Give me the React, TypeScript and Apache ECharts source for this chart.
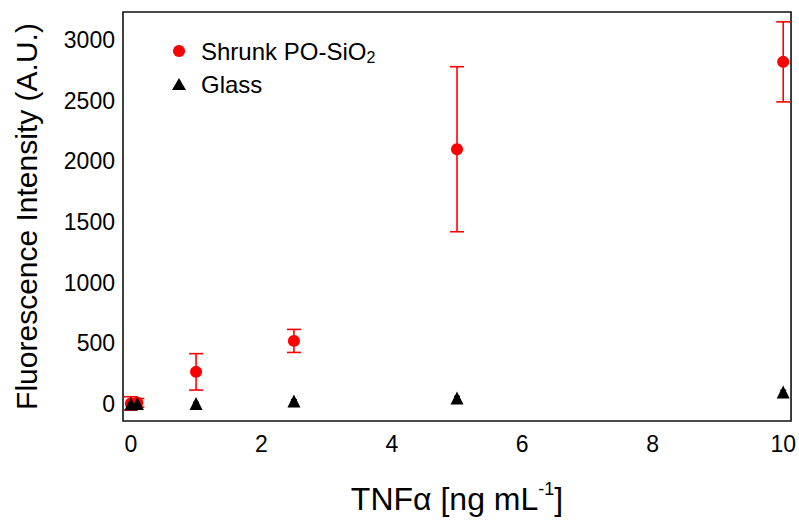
import React, { useEffect, useRef } from "react";
import * as echarts from "echarts";

const concentrations = [0, 0.1, 1, 2.5, 5, 10];
const shrunkMean = [5, 10, 265, 520, 2100, 2820];
const shrunkErr = [55, 35, 150, 95, 680, 330];
const glassMean = [0, 5, 5, 25, 50, 100];
const glassErr = [10, 10, 8, 10, 12, 12];
const xTicks = [0, 2, 4, 6, 8, 10];
const yTicks = [0, 500, 1000, 1500, 2000, 2500, 3000];

const FONT = "'Liberation Sans', Arial, sans-serif";

export default function App() {
  const ref = useRef<HTMLDivElement>(null);
  useEffect(() => {
    if (!ref.current) return;
    const chart = echarts.init(ref.current, null, { renderer: "svg" });
    const errData = concentrations.map((x, i) => [x, shrunkMean[i] - shrunkErr[i], shrunkMean[i] + shrunkErr[i]]);
    const glassErrData = concentrations.map((x, i) => [x, glassMean[i] - glassErr[i], glassMean[i] + glassErr[i]]);
    const errRender = (color: string, cap: number) => (params: any, api: any) => {
      const x = api.value(0);
      const lo = api.coord([x, api.value(1)]);
      const hi = api.coord([x, api.value(2)]);
      const style = { stroke: color, lineWidth: 1.6 };
      return {
        type: "group",
        children: [
          { type: "line", shape: { x1: lo[0], y1: lo[1], x2: hi[0], y2: hi[1] }, style },
          { type: "line", shape: { x1: lo[0] - cap, y1: lo[1], x2: lo[0] + cap, y2: lo[1] }, style },
          { type: "line", shape: { x1: hi[0] - cap, y1: hi[1], x2: hi[0] + cap, y2: hi[1] }, style },
        ],
      };
    };
    chart.setOption({
      animation: false,
      backgroundColor: "#fff",
      grid: {
        left: 123,
        right: 7,
        top: 12,
        bottom: 100,
        show: true,
        borderColor: "#111",
        borderWidth: 1.6,
        backgroundColor: "transparent",
      },
      legend: {
        orient: "vertical",
        left: 167,
        top: 34,
        itemWidth: 14,
        itemHeight: 12,
        itemGap: 7,
        data: [
          { name: "Shrunk PO-SiO2", icon: "circle", itemStyle: { color: "#f00" } },
          { name: "Glass", icon: "triangle", itemStyle: { color: "#000" } },
        ],
        formatter: (name: string) =>
          name === "Shrunk PO-SiO2" ? "{a|Shrunk PO-SiO}{s|2}" : "{a|Glass}",
        textStyle: {
          rich: {
            a: { fontFamily: FONT, fontSize: 24, color: "#000", padding: [0, 0, 0, 10] },
            s: { fontFamily: FONT, fontSize: 16, color: "#000", padding: [12, 0, 0, 0] },
          },
        },
      },
      xAxis: {
        type: "value",
        min: -0.12,
        max: 10.12,
        name: "{a|TNFα [ng mL}{s|-1}{a|]}",
        nameLocation: "middle",
        nameGap: 59,
        nameTextStyle: {
          rich: {
            a: { fontFamily: FONT, fontSize: 32, color: "#000" },
            s: { fontFamily: FONT, fontSize: 18, color: "#000", padding: [0, 0, 19, 0] },
          },
        },
        axisLine: { show: false },
        axisTick: { show: false },
        splitLine: { show: false },
        axisLabel: {
          customValues: xTicks,
          formatter: (v: number) => String(v),
          fontFamily: FONT,
          fontSize: 23,
          color: "#000",
          margin: 11,
        },
      },
      yAxis: {
        type: "value",
        min: -140,
        max: 3231,
        name: "Fluorescence Intensity (A.U.)",
        nameLocation: "middle",
        nameGap: 82,
        nameTextStyle: { fontFamily: FONT, fontSize: 30, color: "#000" },
        axisLine: { show: false },
        axisTick: { show: false },
        splitLine: { show: false },
        axisLabel: {
          customValues: yTicks,
          formatter: (v: number) => String(v),
          fontFamily: FONT,
          fontSize: 23,
          color: "#000",
          margin: 8,
        },
      },
      series: [
        {
          name: "ShrunkErr",
          type: "custom",
          renderItem: errRender("#f00", 7),
          data: errData,
          encode: { x: 0, y: [1, 2] },
          z: 2,
          silent: true,
        },
        {
          name: "GlassErr",
          type: "custom",
          renderItem: errRender("#000", 3),
          data: glassErrData,
          encode: { x: 0, y: [1, 2] },
          z: 2,
          silent: true,
        },
        {
          name: "Shrunk PO-SiO2",
          type: "scatter",
          symbol: "circle",
          symbolSize: 12,
          itemStyle: { color: "#f00", opacity: 1 },
          data: concentrations.map((x, i) => [x, shrunkMean[i]]),
          z: 3,
        },
        {
          name: "Glass",
          type: "scatter",
          symbol: "triangle",
          symbolSize: 13,
          itemStyle: { color: "#000", opacity: 1 },
          data: concentrations.map((x, i) => [x, glassMean[i]]),
          z: 4,
        },
      ],
    });
    return () => chart.dispose();
  }, []);
  return <div ref={ref} style={{ width: 799, height: 521, position: "absolute", left: 0, top: 0 }} />;
}
